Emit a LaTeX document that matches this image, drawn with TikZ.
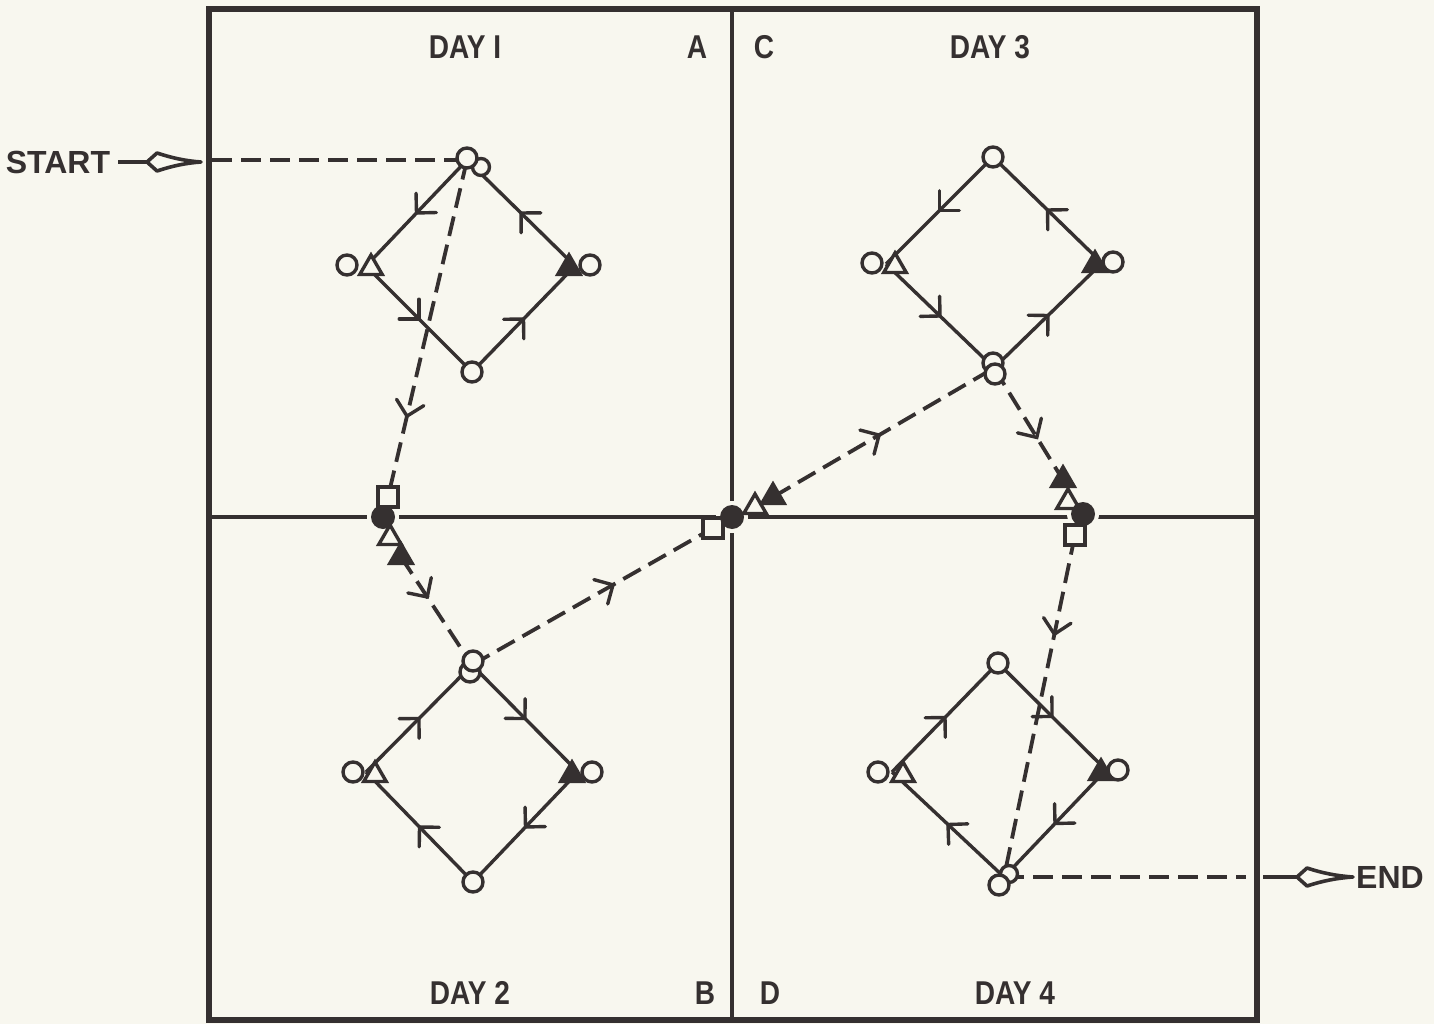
\documentclass[tikz,border=0pt]{standalone}
\usepackage{fontspec}
\setmainfont{Liberation Sans}
\newfontfamily\dayfont{Liberation Sans}[FakeStretch=0.85]
\usetikzlibrary{arrows.meta,decorations.markings,shapes.geometric}
\definecolor{ink}{HTML}{353030}
\definecolor{paper}{HTML}{F8F7EF}
\tikzset{
  frameline/.style={draw=ink, line width=5.5pt},
  crossline/.style={draw=ink, line width=4.8pt},
  edge/.style={draw=ink, line width=3.4pt},
  dashline/.style={draw=ink, line width=3.8pt, dash pattern=on 20pt off 9pt},
  arrowat/.style={postaction={decorate}, decoration={markings, mark=at position #1 with {\draw[solid, draw=ink, line width=3.4pt, line cap=round, line join=miter] (-14pt,-14pt) -- (0pt,0pt) -- (-14pt,14pt);}}},
  hole/.style={circle, draw=ink, fill=paper, line width=3.4pt, minimum size=20pt, inner sep=0pt},
  smallhole/.style={hole, minimum size=17pt},
  sqr/.style={rectangle, draw=ink, fill=paper, line width=3.4pt, minimum size=20pt, inner sep=0pt},
  otri/.style={regular polygon, regular polygon sides=3, draw=ink, fill=paper, line width=3.4pt, minimum size=26pt, inner sep=0pt},
  ftri/.style={otri, fill=ink},
  halo/.style={circle, fill=paper, minimum size=32pt, inner sep=0pt},
  bigdot/.style={circle, fill=ink, minimum size=24pt, inner sep=0pt},
  daylabel/.style={text=ink, font=\dayfont\bfseries\fontsize{33}{33}\selectfont, inner sep=0pt},
  endlabel/.style={text=ink, font=\bfseries\fontsize{32}{32}\selectfont, inner sep=0pt},
  kite/.style={draw=ink, fill=paper, line width=3.6pt, line join=round}
}
\begin{document}
\begin{tikzpicture}[x=1pt,y=-1pt]
\fill[paper] (0,0) rectangle (1434,1024);
\useasboundingbox (0,0) rectangle (1434,1024);

% ---------- frame and cross lines
\coordinate (NW) at (209,9);
\coordinate (SE) at (1257,1020);
\coordinate (Ntop) at (732,9);
\coordinate (Sbot) at (732,1020);
\coordinate (Wmid) at (209,517);
\coordinate (Emid) at (1257,517);
\draw[frameline] (NW) rectangle (SE);
\draw[crossline] (Ntop) -- (Sbot);
\draw[crossline] (Wmid) -- (Emid);

% ---------- labels
\node[daylabel] (day1) at (465,47) {DAY I};
\node[daylabel] (labA) at (697,47) {A};
\node[daylabel] (labC) at (764,47) {C};
\node[daylabel] (day3) at (990,47) {DAY 3};
\node[daylabel] (day2) at (470,993) {DAY 2};
\node[daylabel] (labB) at (705,993) {B};
\node[daylabel] (labD) at (770,993) {D};
\node[daylabel] (day4) at (1015,993) {DAY 4};

% ---------- diamond coordinates
\coordinate (T1) at (467,160);
\coordinate (L1) at (366,266);
\coordinate (B1) at (472,372);
\coordinate (R1) at (575,266);

\coordinate (T2) at (472,665);
\coordinate (L2) at (366,772);
\coordinate (B2) at (473,882);
\coordinate (R2) at (578,772);

\coordinate (T3) at (993,157);
\coordinate (L3) at (886,264);
\coordinate (B3) at (994,368);
\coordinate (R3) at (1102,263);

\coordinate (T4) at (998,663);
\coordinate (L4) at (892,772);
\coordinate (B4) at (1004,877);
\coordinate (R4) at (1106,770);

% intersection markers
\coordinate (X1) at (383,517);
\coordinate (Q1) at (388,497);
\coordinate (O1) at (390,538);
\coordinate (F1) at (401,557);

\coordinate (X2) at (732,517);
\coordinate (Q2) at (713,528);
\coordinate (O2) at (755,507);
\coordinate (F2) at (773,497);

\coordinate (X3) at (1083,514);
\coordinate (Q3) at (1075,535);
\coordinate (O3) at (1068,502);
\coordinate (F3) at (1063,480);

% ---------- diamond edges
\draw[edge, arrowat=0.5] (T1) -- (L1);
\draw[edge, arrowat=0.5] (L1) -- (B1);
\draw[edge, arrowat=0.5] (B1) -- (R1);
\draw[edge, arrowat=0.5] (R1) -- (T1);

\draw[edge, arrowat=0.5] (B2) -- (L2);
\draw[edge, arrowat=0.5] (L2) -- (T2);
\draw[edge, arrowat=0.5] (T2) -- (R2);
\draw[edge, arrowat=0.5] (R2) -- (B2);

\draw[edge, arrowat=0.5] (B3) -- (R3);
\draw[edge, arrowat=0.5] (R3) -- (T3);
\draw[edge, arrowat=0.5] (T3) -- (L3);
\draw[edge, arrowat=0.5] (L3) -- (B3);

\draw[edge, arrowat=0.5] (B4) -- (L4);
\draw[edge, arrowat=0.5] (L4) -- (T4);
\draw[edge, arrowat=0.5] (T4) -- (R4);
\draw[edge, arrowat=0.5] (R4) -- (B4);

% ---------- halos that break the cross lines
\node[halo] (h1) at (X1) {};
\node[halo] (h2) at (X2) {};
\node[halo] (h3) at (X3) {};

% ---------- dashed track
\coordinate (S0) at (212,160);
\coordinate (E0) at (1246,877);
\draw[dashline] (S0) -- (T1);
\draw[dashline, arrowat=0.76] (T1) -- (Q1);
\draw[dashline, arrowat=0.37] (F1) -- (T2);
\draw[dashline, arrowat=0.585] (T2) -- (Q2);
\draw[dashline, arrowat=0.48] (F2) -- (B3);
\draw[dashline, arrowat=0.62] (B3) -- (F3);
\draw[dashline, arrowat=0.29] (Q3) -- (B4);
\draw[dashline] (B4) -- (E0);

% ---------- markers day 1
\node[hole] (c1L) at (347,265) {};
\node[otri] (t1L) at (371,268) {};
\node[ftri] (t1R) at (569,268) {};
\node[hole] (c1R) at (590,265) {};
\node[smallhole] (c1Ta) at (481,167) {};
\node[hole] (c1T) at (467,158) {};
\node[hole] (c1B) at (472,372) {};

% ---------- markers day 2
\node[hole] (c2Ta) at (470,672) {};
\node[hole] (c2T) at (473,661) {};
\node[hole] (c2L) at (353,772) {};
\node[otri] (t2L) at (375,775) {};
\node[ftri] (t2R) at (572,775) {};
\node[hole] (c2R) at (592,772) {};
\node[hole] (c2B) at (473,882) {};

% ---------- markers day 3
\node[hole] (c3T) at (993,157) {};
\node[hole] (c3L) at (872,263) {};
\node[otri] (t3L) at (895,266) {};
\node[ftri] (t3R) at (1095,265) {};
\node[hole] (c3R) at (1113,262) {};
\node[hole] (c3B) at (993,363) {};
\node[hole] (c3Ba) at (995,374) {};

% ---------- markers day 4
\node[hole] (c4T) at (998,663) {};
\node[hole] (c4L) at (878,772) {};
\node[otri] (t4L) at (903,775) {};
\node[ftri] (t4R) at (1101,773) {};
\node[hole] (c4R) at (1118,770) {};
\node[smallhole] (c4Ba) at (1009,874) {};
\node[hole] (c4B) at (999,885) {};

% ---------- intersection markers
\node[sqr] (q1) at (Q1) {};
\node[otri] (o1) at (O1) {};
\node[ftri] (f1) at (F1) {};
\node[bigdot] (x1) at (X1) {};

\node[sqr] (q2) at (Q2) {};
\node[otri] (o2) at (O2) {};
\node[ftri] (f2) at (F2) {};
\node[bigdot] (x2) at (X2) {};

\node[sqr] (q3) at (Q3) {};
\node[ftri] (f3) at (F3) {};
\node[otri] (o3) at (O3) {};
\node[bigdot] (x3) at (X3) {};

% ---------- START / END
\node[endlabel] (start) at (58,162) {START};
\coordinate (s1) at (118,162);
\coordinate (s2) at (147,162);
\draw[edge, line width=3.6pt] (s1) -- (s2);
\draw[kite] (s2) -- (157,153) .. controls (172,158) and (186,161) .. (201,162)
  .. controls (186,163) and (172,166) .. (157,171) -- cycle;

\node[endlabel] (endl) at (1390,877) {END};
\coordinate (e1) at (1263,877);
\coordinate (e2) at (1297,877);
\draw[edge, line width=3.6pt] (e1) -- (e2);
\draw[kite] (e2) -- (1307,868) .. controls (1322,873) and (1337,876) .. (1353,877)
  .. controls (1337,878) and (1322,881) .. (1307,886) -- cycle;
\end{tikzpicture}
\end{document}
